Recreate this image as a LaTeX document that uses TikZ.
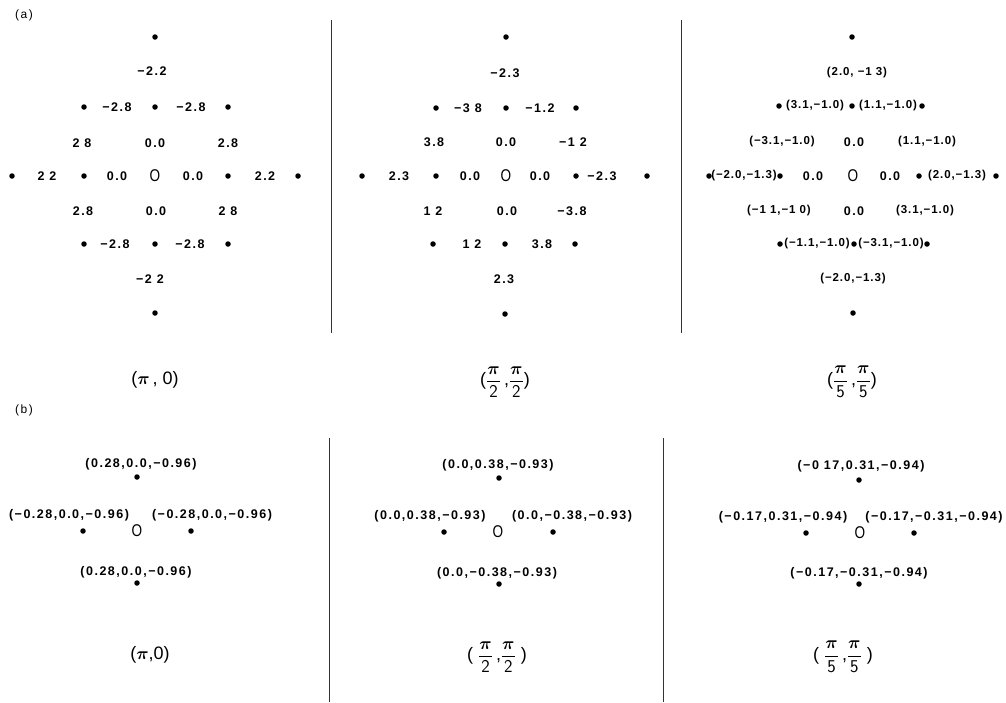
\documentclass[tikz,border=0pt]{standalone}
\usepackage{fontspec}
\usepackage{amsmath}
\setmainfont{Liberation Sans}
\newfontfamily\labfont[LetterSpace=12]{Liberation Sans}
\newfontfamily\labfontn[LetterSpace=8]{Liberation Sans}
\tikzset{
  dot/.style={circle, fill=black, inner sep=0pt, minimum size=5.5pt},
  lbl/.style={inner sep=0pt, font=\labfont\bfseries\fontsize{12.5}{14}\selectfont},
  lbln/.style={inner sep=0pt, font=\labfontn\bfseries\fontsize{11.5}{14}\selectfont},
  orig/.style={inner sep=0pt, font=\fontsize{17}{19}\selectfont},
  big/.style={inner sep=0pt, font=\fontsize{18}{21}\selectfont},
  panel/.style={inner sep=0pt, font=\labfont\fontsize{12}{14}\selectfont},
  sep/.style={draw=black!80, line width=0.8pt},
}
\newcommand\Dt[3]{\node[dot] (#1) at (#2,#3) {};}
\newcommand\Lb[4]{\node[lbl] (#1) at (#2,#3) {#4};}
\newcommand\Ln[4]{\node[lbln] (#1) at (#2,#3) {#4};}
\newcommand\Ob[3]{\node[orig] (#1) at (#2,#3) {\scalebox{0.8}[1]{O}};}
\newcommand\Fr[1]{\dfrac{\boldsymbol{\pi}}{\mathsf{#1}}}
\begin{document}
\begin{tikzpicture}[x=1pt, y=-1pt]
\useasboundingbox (0,0) rectangle (1006,702);
% panel labels
\node[panel] (pla) at (24,15) {(a)};
\node[panel] (plb) at (24,410) {(b)};
% separators
\coordinate (s1t) at (331,20); \coordinate (s1b) at (331,333);
\coordinate (s2t) at (681,20); \coordinate (s2b) at (681,333);
\coordinate (s3t) at (329,438); \coordinate (s3b) at (329,702);
\coordinate (s4t) at (663,438); \coordinate (s4b) at (663,702);
\draw[sep] (s1t) -- (s1b);
\draw[sep] (s2t) -- (s2b);
\draw[sep] (s3t) -- (s3b);
\draw[sep] (s4t) -- (s4b);
% ---------- (a) left ----------
\Dt{pa1}{155}{37}
\Dt{pa2}{84}{107}\Dt{pa3}{155}{107}\Dt{pa4}{228}{107}
\Dt{pa5}{12}{176}\Dt{pa6}{84}{176}\Dt{pa7}{228}{176}\Dt{pa8}{298}{176}
\Dt{pa9}{84}{244}\Dt{pa10}{155}{244}\Dt{pa11}{228}{244}
\Dt{pa12}{155}{313}
\Lb{la1}{152}{71}{−2.2}
\Lb{la2}{117}{107}{−2.8}\Lb{la3}{191}{107}{−2.8}
\Lb{la4}{82}{143}{2 8}\Lb{la5}{155}{143}{0.0}\Lb{la6}{228}{143}{2.8}
\Lb{la7}{47}{176}{2 2}\Lb{la8}{117}{176}{0.0}\Ob{oa}{155}{176}\Lb{la9}{193}{176}{0.0}\Lb{la10}{265}{176}{2.2}
\Lb{la11}{83}{211}{2.8}\Lb{la12}{156}{211}{0.0}\Lb{la13}{228}{211}{2 8}
\Lb{la14}{115}{244}{−2.8}\Lb{la15}{190}{244}{−2.8}
\Lb{la16}{150}{279}{−2 2}
\node[big] (ta) at (155,380) {($\boldsymbol{\pi}$\,, 0)};
% ---------- (a) middle ----------
\Dt{pb1}{506}{37}
\Dt{pb2}{436}{108}\Dt{pb3}{506}{108}\Dt{pb4}{576}{108}
\Dt{pb5}{362}{176}\Dt{pb6}{436}{176}\Dt{pb7}{576}{176}\Dt{pb8}{647}{176}
\Dt{pb9}{433}{244}\Dt{pb10}{505}{244}\Dt{pb11}{575}{244}
\Dt{pb12}{505}{314}
\Lb{lb1}{505}{73}{−2.3}
\Lb{lb2}{468}{108}{−3 8}\Lb{lb3}{540}{108}{−1.2}
\Lb{lb4}{434}{142}{3.8}\Lb{lb5}{506}{142}{0.0}\Lb{lb6}{573}{142}{−1 2}
\Lb{lb7}{399}{176}{2.3}\Lb{lb8}{470}{176}{0.0}\Ob{ob}{506}{176}\Lb{lb9}{540}{176}{0.0}\Lb{lb10}{602}{176}{−2.3}
\Lb{lb11}{433}{211}{1 2}\Lb{lb12}{507}{211}{0.0}\Lb{lb13}{572}{211}{−3.8}
\Lb{lb14}{472}{244}{1 2}\Lb{lb15}{542}{244}{3.8}
\Lb{lb16}{504}{279}{2.3}
\node[big] (tb) at (505,382) {($\Fr{2}$\,,$\Fr{2}$)};
% ---------- (a) right ----------
\Dt{pc1}{852}{37}
\Dt{pc2}{779}{106}\Dt{pc3}{852}{106}\Dt{pc4}{922}{106}
\Dt{pc5}{709}{176}\Dt{pc6}{780}{176}\Dt{pc7}{919}{176}\Dt{pc8}{996}{176}
\Dt{pc9}{780}{244}\Dt{pc10}{854}{244}\Dt{pc11}{927}{244}
\Dt{pc12}{853}{313}
\Ln{lc1}{857}{73}{(2.0, −1 3)}
\Ln{lc2}{815}{106}{(3.1,−1.0)}\Ln{lc3}{888}{106}{(1.1,−1.0)}
\Ln{lc4}{782}{142}{(−3.1,−1.0)}\Lb{lc5}{854}{142}{0.0}\Ln{lc6}{927}{142}{(1.1,−1.0)}
\Ln{lc7}{744}{176}{(−2.0,−1.3)}\Lb{lc8}{813}{176}{0.0}\Ob{oc}{853}{176}\Lb{lc9}{890}{176}{0.0}\Ln{lc10}{957}{176}{(2.0,−1.3)}
\Ln{lc11}{779}{211}{(−1 1,−1 0)}\Lb{lc12}{854}{211}{0.0}\Ln{lc13}{925}{211}{(3.1,−1.0)}
\Ln{lc14}{817}{244}{(−1.1,−1.0)}\Ln{lc15}{891}{244}{(−3.1,−1.0)}
\Ln{lc16}{853}{279}{(−2.0,−1.3)}
\node[big] (tc) at (852,382) {($\Fr{5}$\,,$\Fr{5}$)};
% ---------- (b) left ----------
\Lb{ld1}{141}{464}{(0.28,0.0,−0.96)}\Dt{pd1}{137}{477}
\Lb{ld2}{69}{515}{(−0.28,0.0,−0.96)}\Lb{ld3}{212}{515}{(−0.28,0.0,−0.96)}
\Dt{pd2}{83}{531}\Ob{od}{137}{531}\Dt{pd3}{191}{531}
\Lb{ld4}{136}{572}{(0.28,0.0,−0.96)}\Dt{pd4}{137}{583}
\node[big] (td) at (150,655) {($\boldsymbol{\pi}$,0)};
% ---------- (b) middle ----------
\Lb{le1}{498}{465}{(0.0,0.38,−0.93)}\Dt{pe1}{499}{478}
\Lb{le2}{430}{516}{(0.0,0.38,−0.93)}\Lb{le3}{572}{516}{(0.0,−0.38,−0.93)}
\Dt{pe2}{444}{532}\Ob{oe}{498}{532}\Dt{pe3}{553}{532}
\Lb{le4}{497}{573}{(0.0,−0.38,−0.93)}\Dt{pe4}{499}{584}
\node[big] (te) at (497,657) {( $\Fr{2}$\,,$\Fr{2}$ )};
% ---------- (b) right ----------
\Lb{lf1}{861}{466}{(−0 17,0.31,−0.94)}\Dt{pf1}{859}{480}
\Lb{lf2}{783}{517}{(−0.17,0.31,−0.94)}\Lb{lf3}{934}{517}{(−0.17,−0.31,−0.94)}
\Dt{pf2}{806}{533}\Ob{of}{860}{533}\Dt{pf3}{914}{533}
\Lb{lf4}{859}{573}{(−0.17,−0.31,−0.94)}\Dt{pf4}{859}{584}
\node[big] (tf) at (843,657) {( $\Fr{5}$\,,$\Fr{5}$ )};
\end{tikzpicture}
\end{document}
